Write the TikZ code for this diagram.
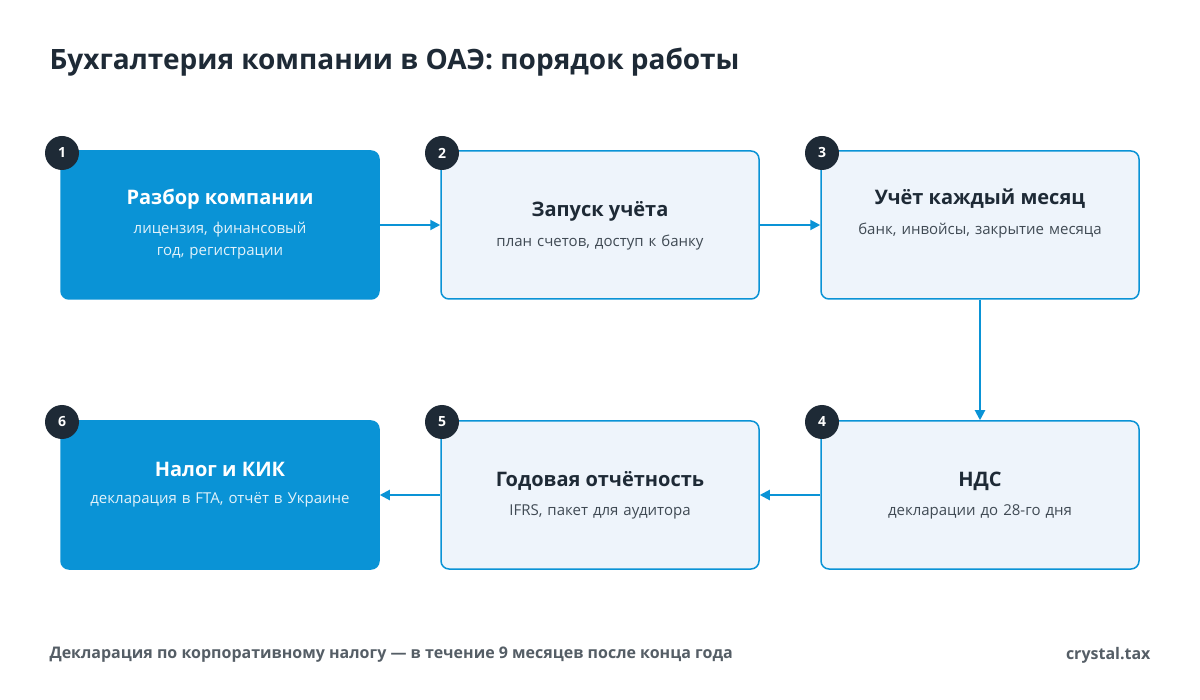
\documentclass[tikz,border=0pt]{standalone}
\usepackage{fontspec}
\setmainfont{Open Sans}
\usetikzlibrary{arrows.meta}
\definecolor{blu}{HTML}{0A93D6}
\definecolor{lite}{HTML}{EEF4FB}
\definecolor{ink}{HTML}{1E2A36}
\definecolor{gry}{HTML}{555E66}
\begin{document}
\begin{tikzpicture}[x=1pt,y=-1pt,
 dark/.style={draw=blu,fill=blu,line width=1.5pt,rounded corners=8pt,minimum width=318pt,minimum height=148pt,inner sep=0},
 light/.style={draw=blu,fill=lite,line width=1.5pt,rounded corners=8pt,minimum width=318pt,minimum height=148pt,inner sep=0},
 num/.style={circle,fill=ink,minimum size=34pt,inner sep=0,text=white,font=\bfseries\fontsize{14}{16}\selectfont},
 ttl/.style={font=\bfseries\fontsize{20}{24}\selectfont,anchor=center},
 sub/.style={font=\fontsize{15}{22}\selectfont,align=center,text width=290pt,anchor=north},
 arr/.style={draw=blu,line width=2pt,-{Triangle[length=10pt,width=10pt]}}]
\useasboundingbox (0,0) rectangle (1200,700);
\fill[white] (0,0) rectangle (1200,700);
\node[anchor=west,text=ink,font=\bfseries\fontsize{28}{32}\selectfont] (title) at (46,62) {Бухгалтерия компании в ОАЭ: порядок работы};
\node[dark] (b1) at (220,225) {};
\node[light] (b2) at (600,225) {};
\node[light] (b3) at (980,225) {};
\node[light] (b4) at (980,495) {};
\node[light] (b5) at (600,495) {};
\node[dark] (b6) at (220,495) {};
\node[ttl,text=white] (t1) at (220,199) {Разбор компании};
\node[sub,text=white!88!blu] (s1) at (220,219) {лицензия, финансовый год, регистрации};
\node[ttl,text=ink] (t2) at (600,211) {Запуск учёта};
\node[sub,text=ink!85] (s2) at (600,231) {план счетов, доступ к банку};
\node[ttl,text=ink] (t3) at (980,199) {Учёт каждый месяц};
\node[sub,text=ink!85] (s3) at (980,219) {банк, инвойсы, закрытие месяца};
\node[ttl,text=ink] (t4) at (980,481) {НДС};
\node[sub,text=ink!85] (s4) at (980,501) {декларации до 28-го дня};
\node[ttl,text=ink] (t5) at (600,481) {Годовая отчётность};
\node[sub,text=ink!85] (s5) at (600,501) {IFRS, пакет для аудитора};
\node[ttl,text=white] (t6) at (220,469) {Налог и КИК};
\node[sub,text=white!88!blu] (s6) at (220,489) {декларация в FTA, отчёт в Украине};
\node[num] (n1) at (62,153) {1};
\node[num] (n2) at (442,153) {2};
\node[num] (n3) at (822,153) {3};
\node[num] (n4) at (822,422) {4};
\node[num] (n5) at (442,422) {5};
\node[num] (n6) at (62,422) {6};
\draw[arr] (b1.east) -- (b2.west);
\draw[arr] (b2.east) -- (b3.west);
\draw[arr] (b3.south) -- (b4.north);
\draw[arr] (b4.west) -- (b5.west-|b5.east);
\draw[arr] (b5.west) -- (b6.east);
\node[anchor=west,text=gry,font=\bfseries\fontsize{16}{20}\selectfont] (foot) at (46,655) {Декларация по корпоративному налогу — в течение 9 месяцев после конца года};
\node[anchor=east,text=gry,font=\bfseries\fontsize{16}{20}\selectfont] (brand) at (1154,655) {crystal.tax};
\end{tikzpicture}
\end{document}
